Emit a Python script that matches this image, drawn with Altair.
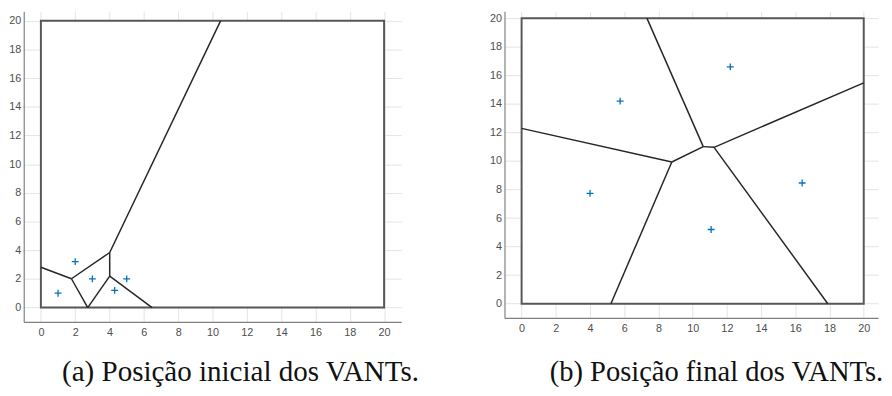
import altair as alt
import pandas as pd

# ---- data ----
tick_values = list(range(0, 21, 2))
box_bounds = [0, 20]

# (a) initial UAV positions
a_px = [1.0, 2.0, 3.0, 4.3, 5.0]
a_py = [1.0, 3.2, 2.0, 1.2, 2.0]
# (a) Voronoi edges
a_x1 = [0.0, 1.78, 1.78, 4.01, 4.01, 4.01, 4.01]
a_y1 = [2.81, 2.01, 2.01, 3.84, 2.19, 2.19, 3.84]
a_x2 = [1.78, 2.73, 4.01, 4.01, 2.73, 6.48, 10.47]
a_y2 = [2.01, 0.0, 3.84, 2.19, 0.0, 0.0, 20.0]

# (b) final UAV positions
b_px = [5.76, 12.2, 4.0, 16.4, 11.08]
b_py = [14.2, 16.6, 7.73, 8.46, 5.2]
# (b) Voronoi edges
b_x1 = [0.0, 8.78, 8.78, 10.62, 10.62, 11.25, 11.25]
b_y1 = [12.29, 9.93, 9.93, 11.01, 11.01, 10.96, 10.96]
b_x2 = [8.78, 5.22, 10.62, 7.33, 11.25, 20.0, 17.9]
b_y2 = [9.93, 0.0, 11.01, 20.0, 10.96, 15.48, 0.0]

captions = ["(a) Posição inicial dos VANTs.", "(b) Posição final dos VANTs."]

CROSS = "M-1,0L1,0M0,-1L0,1"


def panel(px, py, x1, y1, x2, y2, xdom, ydom, w, h):
    xs = alt.Scale(domain=xdom, nice=False, zero=False)
    ys = alt.Scale(domain=ydom, nice=False, zero=False)
    xax = alt.Axis(values=tick_values, title=None, grid=True, labelPadding=5,
                   labelOverlap=False, labelFlush=False)
    yax = alt.Axis(values=tick_values, title=None, grid=True, labelPadding=3,
                   labelOverlap=False, labelFlush=False)

    box_df = pd.DataFrame({"x0": [box_bounds[0]], "x1": [box_bounds[1]],
                           "y0": [box_bounds[0]], "y1": [box_bounds[1]]})
    box = alt.Chart(box_df).mark_rect(
        fill="white", stroke="#575757", strokeWidth=2
    ).encode(
        x=alt.X("x0:Q", scale=xs, axis=xax),
        x2="x1:Q",
        y=alt.Y("y0:Q", scale=ys, axis=yax),
        y2="y1:Q",
    )

    edges_df = pd.DataFrame({"x1": x1, "y1": y1, "x2": x2, "y2": y2})
    edges = alt.Chart(edges_df).mark_rule(
        color="#262626", strokeWidth=1.5
    ).encode(
        x=alt.X("x1:Q", scale=xs, axis=xax),
        y=alt.Y("y1:Q", scale=ys, axis=yax),
        x2="x2:Q",
        y2="y2:Q",
    )

    pts_df = pd.DataFrame({"x": px, "y": py})
    pts = alt.Chart(pts_df).mark_point(
        shape=CROSS, filled=False, color="#0072BD", strokeWidth=1.3,
        size=49, opacity=1
    ).encode(
        x=alt.X("x:Q", scale=xs, axis=xax),
        y=alt.Y("y:Q", scale=ys, axis=yax),
    )
    return alt.layer(box, edges, pts).properties(width=w, height=h)


left = panel(a_px, a_py, a_x1, a_y1, a_x2, a_y2, [-1, 21], [-1, 20.67], 384, 316)
right = panel(b_px, b_py, b_x1, b_y1, b_x2, b_y2, [-1, 20.84], [-1, 20.5], 380, 312)

row = alt.hconcat(left, right, spacing=89)

cap_a = alt.Chart(pd.DataFrame({"caption": [captions[0]]})).mark_text(
    align="left", baseline="alphabetic", font="Liberation Serif",
    fontSize=29.5, color="#111111"
).encode(text="caption:N", x=alt.value(39), y=alt.value(44))

cap_b = alt.Chart(pd.DataFrame({"caption": [captions[1]]})).mark_text(
    align="left", baseline="alphabetic", font="Liberation Serif",
    fontSize=29, color="#111111"
).encode(text="caption:N", x=alt.value(535), y=alt.value(44))

caption_row = alt.layer(cap_a, cap_b).properties(width=870, height=48)

chart = alt.vconcat(row, caption_row, spacing=0).properties(
    padding=0
).configure_view(
    stroke=None
).configure_axis(
    labelFont="Liberation Sans",
    labelFontSize=11,
    labelColor="#4d4d4d",
    gridColor="#e3e3e3",
    gridWidth=1,
    domainColor="#808080",
    domainWidth=1.2,
    tickSize=0,
)

chart.save("out.html", embed_options={"renderer": "svg", "actions": False})
